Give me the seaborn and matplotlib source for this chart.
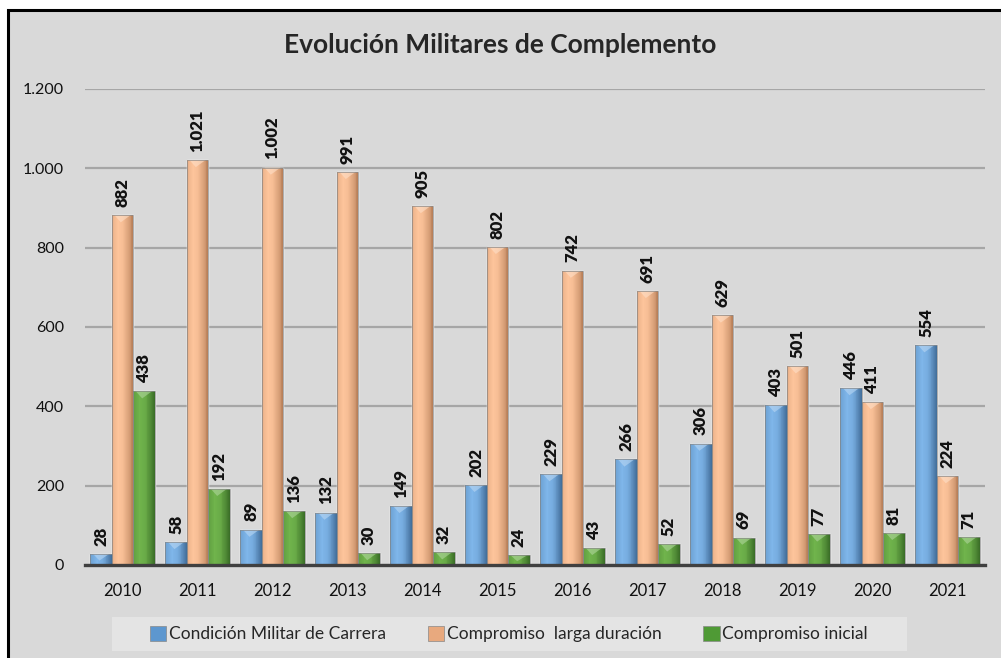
import seaborn as sns
import matplotlib.pyplot as plt
import numpy as np
import pandas as pd
from matplotlib.colors import to_rgb
from matplotlib.patches import Rectangle, Polygon

# Data
years = ['2010', '2011', '2012', '2013', '2014', '2015',
         '2016', '2017', '2018', '2019', '2020', '2021']
carrera = [28, 58, 89, 132, 149, 202, 229, 266, 306, 403, 446, 554]
larga = [882, 1021, 1002, 991, 905, 802, 742, 691, 629, 501, 411, 224]
inicial = [438, 192, 136, 30, 32, 24, 43, 52, 69, 77, 81, 71]
series = ['Condición Militar de Carrera', 'Compromiso  larga duración',
          'Compromiso inicial']
y_ticks = [0, 200, 400, 600, 800, 1000, 1200]

df = pd.DataFrame({
    'year': years * 3,
    'value': carrera + larga + inicial,
    'serie': [series[0]] * 12 + [series[1]] * 12 + [series[2]] * 12,
})

# (dark edge, light centre) for the cylinder look
shades = {
    series[0]: ('#355f8a', '#7fb6ea'),
    series[1]: ('#a8704a', '#fdc49b'),
    series[2]: ('#2f5f1f', '#70b44c'),
}
palette = {k: v[1] for k, v in shades.items()}
legend_colors = {series[0]: '#5d97cf', series[1]: '#e8a97e', series[2]: '#4f9a35'}


def fmt(v):
    return f'{int(round(v)):,}'.replace(',', '.')


def shade_bar(ax, bar, dark, light):
    x0, y0 = bar.get_x(), bar.get_y()
    w, h = bar.get_width(), bar.get_height()
    n = 24
    t = (np.arange(n) + 0.5) / n
    g = np.interp(t, [0, 0.06, 0.3, 0.55, 0.8, 1],
                  [0.45, 0.8, 1.0, 0.9, 0.55, 0.15])
    d, l = np.array(to_rgb(dark)), np.array(to_rgb(light))
    # vertical stripes across the bar width
    for i in range(n):
        ax.add_patch(Rectangle((x0 + i * w / n, y0), w / n * 1.05, h,
                               facecolor=d + (l - d) * g[i],
                               edgecolor='none', zorder=3))
    # small bevel highlight on top of the bar
    bh = min(18, h * 0.6)
    top = y0 + h
    hi = 0.55 * l + 0.45 * np.ones(3)
    ax.add_patch(Polygon([(x0 + 0.12 * w, top), (x0 + 0.88 * w, top),
                          (x0 + 0.42 * w, top - bh)],
                         closed=True, facecolor=hi, edgecolor='none',
                         alpha=0.6, zorder=4))
    ax.add_patch(Rectangle((x0, y0), w, h, facecolor='none',
                           edgecolor='#8a8a8a', linewidth=0.5, zorder=4))


sns.set_style('white')
plt.rcParams['font.family'] = ['Lato', 'DejaVu Sans']

fig = plt.figure(figsize=(10.01, 6.58), dpi=100)
fig.patch.set_facecolor('white')

# Chart frame
frame = Rectangle((8 / 1001, -0.01), 1.0, 1 - 10 / 658 + 0.01,
                  transform=fig.transFigure, facecolor='#d9d9d9',
                  edgecolor='black', linewidth=2.2, zorder=-5)
fig.patches.append(frame)
# Legend background
fig.patches.append(Rectangle((112 / 1001, 1 - 651 / 658), 795 / 1001, 34 / 658,
                             transform=fig.transFigure, facecolor='#e4e4e4',
                             edgecolor='none', zorder=-4))

ax = fig.add_axes([85 / 1001, 1 - 565 / 658, 900 / 1001, 476 / 658])
ax.set_zorder(1)
ax.set_facecolor('none')

sns.barplot(data=df, x='year', y='value', hue='serie', palette=palette,
            width=0.855, dodge=True, ax=ax, legend=False)

xlim = ax.get_xlim()
for cont, name in zip(ax.containers, series):
    dark, light = shades[name]
    for bar in cont:
        shade_bar(ax, bar, dark, light)
    ax.bar_label(cont, labels=[fmt(v) for v in cont.datavalues],
                 rotation=90, padding=6, fontsize=12, fontweight='heavy',
                 color='#111111', zorder=5)

ax.set_xlim(xlim)
ax.set_ylim(0, 1200)
ax.set_yticks(y_ticks)
ax.set_yticklabels([fmt(v) for v in y_ticks])
ax.set_xlabel('')
ax.set_ylabel('')
ax.grid(axis='y', color='#a6a6a6', linewidth=1.6, zorder=1)
ax.set_axisbelow(True)
for s in ['top', 'right', 'left']:
    ax.spines[s].set_visible(False)
ax.spines['bottom'].set_color('#404040')
ax.spines['bottom'].set_linewidth(2.4)
ax.spines['bottom'].set_zorder(6)
ax.tick_params(axis='y', length=0, pad=15, labelsize=11.5, labelcolor='#111111')
ax.tick_params(axis='x', length=0, pad=13, labelsize=12, labelcolor='#111111')

# Title
fig.text(0.5, 1 - 45 / 658, 'Evolución Militares de Complemento',
         ha='center', va='center', fontsize=19, fontweight='bold')

# Legend
handles = [Rectangle((0, 0), 1, 1, facecolor=legend_colors[s],
                     edgecolor='#888888', linewidth=0.5) for s in series]
leg = fig.legend(handles, series, loc='center',
                 bbox_to_anchor=(509 / 1001, 1 - 634 / 658), ncol=3,
                 fontsize=12.5, frameon=False,
                 handlelength=0.95, handleheight=0.95, handletextpad=0.15,
                 columnspacing=2.4, borderaxespad=0)
leg.set_zorder(2)

fig.savefig('out.png', dpi=100, facecolor=fig.get_facecolor())
